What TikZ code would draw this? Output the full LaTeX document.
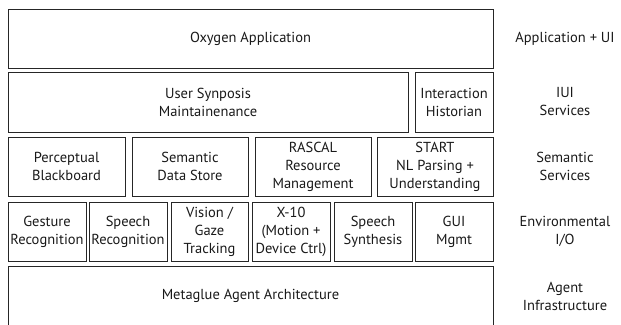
\documentclass[tikz,border=0pt]{standalone}
\usepackage{fontspec}
\setmainfont{PT Sans}
\usetikzlibrary{positioning}

\tikzset{
  layer/.style={draw=black!85,line width=0.9pt,align=center,inner sep=1pt,
    font=\fontsize{14.5}{18}\selectfont,text=black!90},
  tag/.style={align=center,font=\fontsize{14.5}{18}\selectfont,text=black!90}
}

\begin{document}
\begin{tikzpicture}[x=1pt,y=-1pt]

\useasboundingbox (0,0) rectangle (621,324);

% application layer
\node[layer,minimum width=485pt,minimum height=59pt] (oxygen) at (250.5,38.5) {Oxygen Application};

% iui services
\node[layer,minimum width=400pt,minimum height=60pt] (synopsis) at (208,102) {User Synposis\\Maintainenance};
\node[layer,minimum width=78pt,minimum height=60pt] (historian) at (454,102) {Interaction\\Historian};

% semantic services
\node[layer,minimum width=117pt,minimum height=59pt] (blackboard) at (66.5,166.5) {Perceptual\\Blackboard};
\node[layer,minimum width=116pt,minimum height=59pt] (datastore) at (190,166.5) {Semantic\\Data Store};
\node[layer,minimum width=116pt,minimum height=59pt] (rascal) at (313,166.5) {RASCAL\\Resource\\Management};
\node[layer,minimum width=116pt,minimum height=59pt] (start) at (435,166.5) {START\\NL Parsing +\\Understanding};

% environmental i/o
\node[layer,minimum width=78pt,minimum height=59pt] (gesture) at (47,231.5) {Gesture\\Recognition};
\node[layer,minimum width=78pt,minimum height=59pt] (speechrec) at (128,231.5) {Speech\\Recognition};
\node[layer,minimum width=77pt,minimum height=59pt] (vision) at (209.5,231.5) {Vision /\\Gaze\\Tracking};
\node[layer,minimum width=78pt,minimum height=59pt] (xten) at (291,231.5) {X-10\\(Motion +\\Device Ctrl)};
\node[layer,minimum width=78pt,minimum height=59pt] (speechsyn) at (373,231.5) {Speech\\Synthesis};
\node[layer,minimum width=78pt,minimum height=59pt] (gui) at (454,231.5) {GUI\\Mgmt};

% agent infrastructure (runs off the bottom)
\node[layer,minimum width=485pt,minimum height=60pt] (metaglue) at (250.5,296) {Metaglue Agent Architecture};

% layer names
\node[tag] (tagapp) at (565,38.5) {Application + UI};
\node[tag] (tagiui) at (565,102) {IUI\\Services};
\node[tag] (tagsem) at (565,166.5) {Semantic\\Services};
\node[tag] (tagenv) at (565,231.5) {Environmental\\I/O};
\node[tag] (tagagent) at (565,296) {Agent\\Infrastructure};

\end{tikzpicture}
\end{document}
